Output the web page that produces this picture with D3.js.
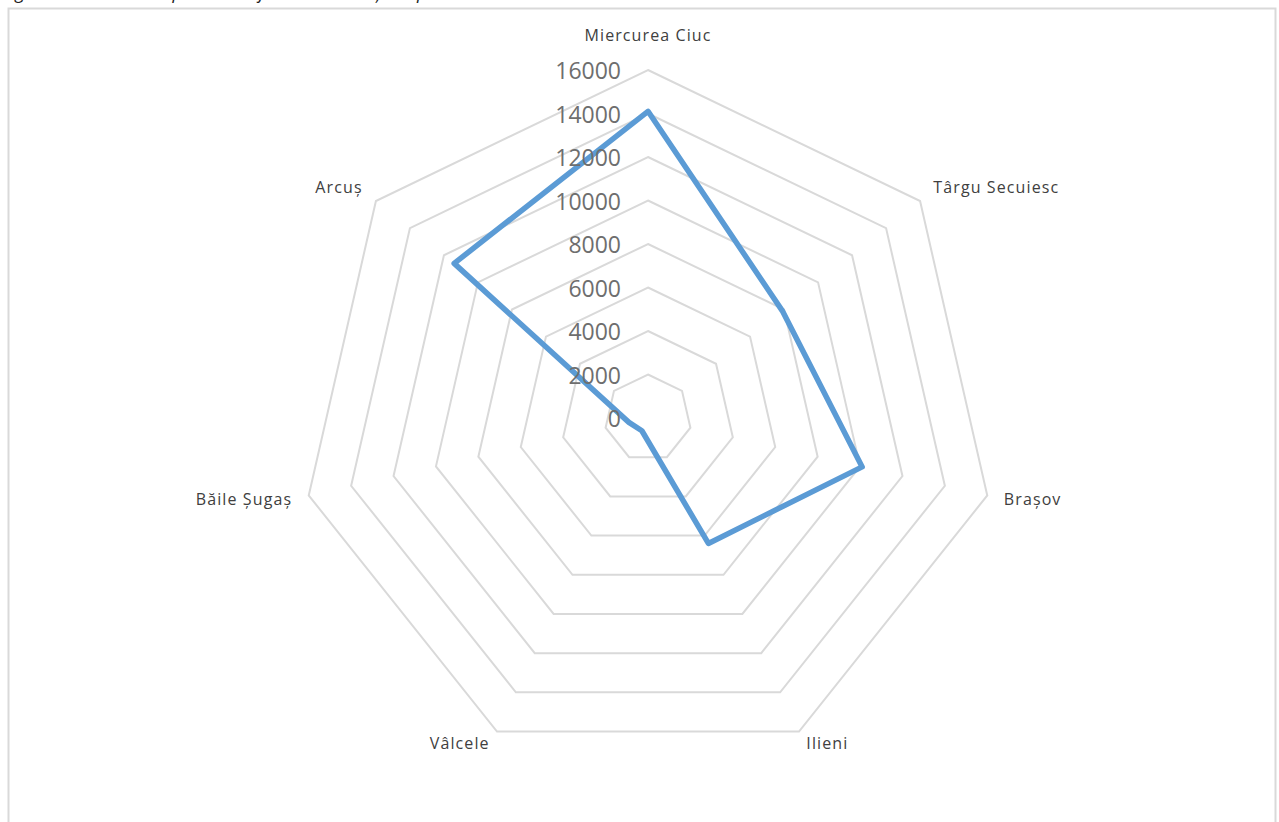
<!DOCTYPE html>
<html>
<head>
<meta charset="utf-8">
<script src="https://cdn.jsdelivr.net/npm/d3@7"></script>
<style>
  html, body { margin: 0; padding: 0; background: #ffffff; overflow: hidden; }
  svg { display: block; }
</style>
</head>
<body>
<script>
const categories = ["Miercurea Ciuc", "Târgu Secuiesc", "Brașov", "Ilieni", "Vâlcele", "Băile Șugaș", "Arcuș"];
const values = [14100, 7900, 10100, 6400, 650, 900, 11400];
const tickValues = [0, 2000, 4000, 6000, 8000, 10000, 12000, 14000, 16000];
const captionText = "Figura 3. Analiza comparativă a fluxului de turiști în punctele de monitorizare";

const W = 1279, H = 822;
const cx = 648, cy = 418, R = 348;

const svg = d3.select("body").append("svg").attr("width", W).attr("height", H);

// cropped caption at the very top (only its lower edge is visible, as in the reference)
svg.append("text")
  .attr("x", 2).attr("y", -1)
  .attr("font-family", "Open Sans, sans-serif")
  .attr("font-style", "italic")
  .attr("font-size", 18)
  .attr("fill", "#222")
  .text(captionText);

// chart frame
svg.append("rect")
  .attr("x", 8.5).attr("y", 8.5)
  .attr("width", 1267).attr("height", 860)
  .attr("fill", "#ffffff")
  .attr("stroke", "#d9d9d9")
  .attr("stroke-width", 2);

const n = categories.length;
const angle = d3.scaleLinear().domain([0, n]).range([0, 2 * Math.PI]);
const r = d3.scaleLinear().domain([0, 16000]).range([0, R]);

function pt(i, v) {
  const a = angle(i);
  return [cx + r(v) * Math.sin(a), cy - r(v) * Math.cos(a)];
}

// grid rings
const g = svg.append("g");
tickValues.filter(t => t > 0).forEach(t => {
  const pts = d3.range(n).map(i => pt(i, t));
  g.append("path")
    .attr("d", d3.line()(pts) + "Z")
    .attr("fill", "none")
    .attr("stroke", "#d9d9d9")
    .attr("stroke-width", 2);
});

// data polygon
const dataPts = values.map((v, i) => pt(i, v));
svg.append("path")
  .attr("d", d3.line()(dataPts) + "Z")
  .attr("fill", "none")
  .attr("stroke", "#5b9bd5")
  .attr("stroke-width", 5.5)
  .attr("stroke-linejoin", "round");

// tick labels
svg.append("g").selectAll("text")
  .data(tickValues)
  .join("text")
  .attr("x", 621)
  .attr("y", d => cy - r(d))
  .attr("text-anchor", "end")
  .attr("dominant-baseline", "central")
  .attr("font-family", "Open Sans, sans-serif")
  .attr("font-size", 23)
  .attr("fill", "#6e6e6e")
  .text(d => d);

// category labels
svg.append("g").selectAll("text")
  .data(categories)
  .join("text")
  .each(function(d, i) {
    const a = angle(i);
    const s = Math.sin(a), c = Math.cos(a);
    const rr = R + 17;
    let x = cx + rr * s;
    let y = cy - rr * c;
    let anchor = "middle";
    if (s > 0.1) anchor = "start";
    else if (s < -0.1) anchor = "end";
    if (Math.abs(s) < 0.1) y -= 18;
    if (c < -0.5) y -= 4;
    if (c > 0.5 && Math.abs(s) >= 0.1) y -= 3;
    d3.select(this)
      .attr("x", x).attr("y", y)
      .attr("text-anchor", anchor);
  })
  .attr("dominant-baseline", "central")
  .attr("font-family", "Open Sans, sans-serif")
  .attr("font-size", 16)
  .attr("letter-spacing", 1.1)
  .attr("fill", "#404040")
  .text(d => d);
</script>
</body>
</html>
